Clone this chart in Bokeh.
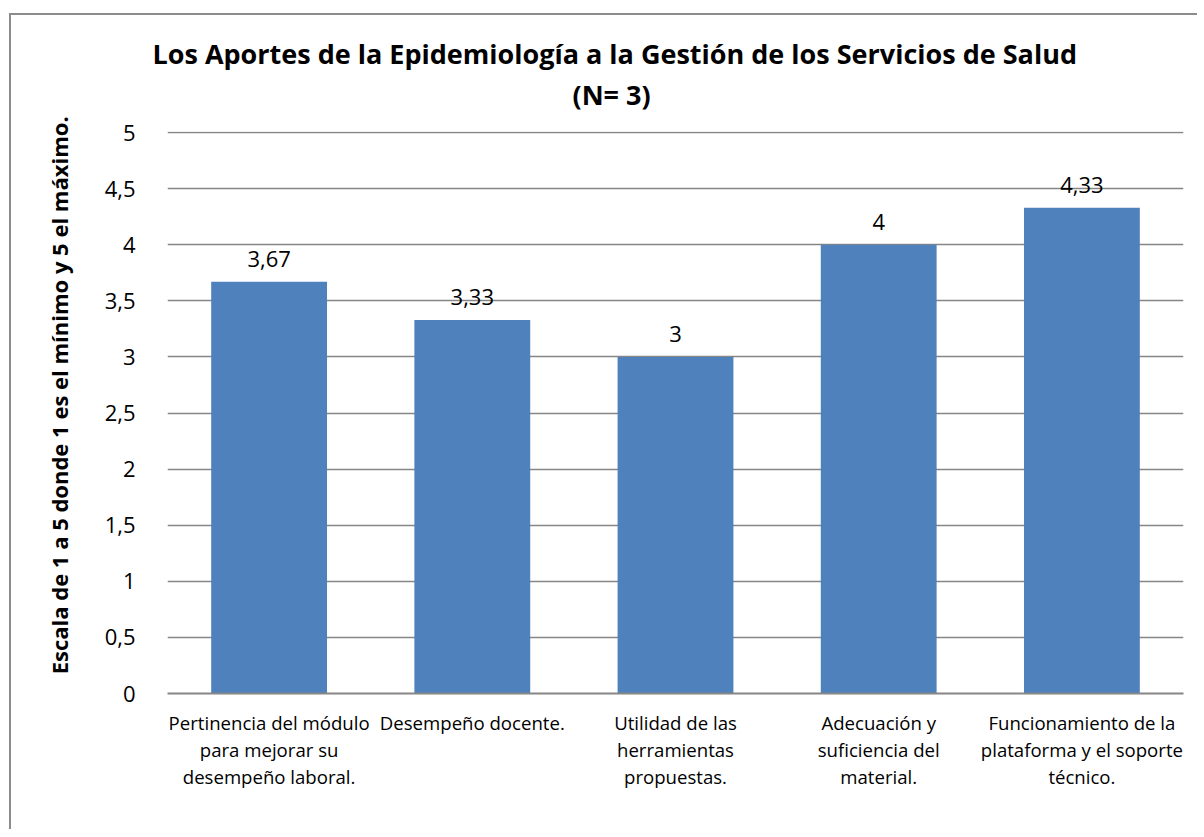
from bokeh.plotting import figure
from bokeh.models import ColumnDataSource, Range1d, FixedTicker, Title, LabelSet
from bokeh.core.properties import value
from bokeh.embed import file_html
from bokeh.resources import INLINE

categories = [
    "Pertinencia del módulo\npara mejorar su\ndesempeño laboral.",
    "Desempeño docente.",
    "Utilidad de las\nherramientas\npropuestas.",
    "Adecuación y\nsuficiencia del\nmaterial.",
    "Funcionamiento de la\nplataforma y el soporte\ntécnico.",
]
values = [3.67, 3.33, 3, 4, 4.33]
y_ticks = [0, 0.5, 1, 1.5, 2, 2.5, 3, 3.5, 4, 4.5, 5]
title_line1 = "Los Aportes de la Epidemiología a la Gestión de los Servicios de Salud"
title_line2 = "(N= 3)"
y_label = "Escala  de 1 a 5 donde 1 es el mínimo y 5 el máximo."

def fmt(v):
    s = ("%g" % v)
    return s.replace(".", ",")

labels = [fmt(v) for v in values]
src = ColumnDataSource(dict(cat=categories, val=values, lab=labels))

FONT = "Open Sans"
GRID = "#868686"

p = figure(
    x_range=categories, y_range=Range1d(0, 5.01),
    width=1188, height=816,
    output_backend="svg", toolbar_location=None,
    min_border_left=156, min_border_right=16,
    min_border_top=116, min_border_bottom=138,
)
p.margin = (13, 0, 0, 9)
p.styles = {"border-left": "2px solid #8c8c8c", "border-top": "2px solid #8c8c8c"}
p.outline_line_color = None

p.vbar(x="cat", top="val", width=0.57, source=src, fill_color="#4F81BD", line_color=None)

p.add_layout(LabelSet(x="cat", y="val", text="lab", source=src, text_align="center",
                      text_baseline="bottom", y_offset=15, text_font=value(FONT),
                      text_font_size="22px", text_color="#000000"))

# Titles
p.title.text = title_line1
p.title.align = "left"
p.title.offset = -15
p.title.text_font = FONT
p.title.text_font_size = "27px"
p.title.text_font_style = "bold"
p.title.text_color = "#000000"
t2 = Title(text=title_line2, align="left", offset=405, text_font=FONT, text_font_size="27px",
           text_font_style="bold", text_color="#000000")
t2.standoff = 37
try:
    p.title.standoff = -33
except Exception:
    p.title.standoff = 0
p.add_layout(t2, "above")

# Y axis
p.yaxis.ticker = FixedTicker(ticks=y_ticks)
p.yaxis.major_label_overrides = {t: fmt(t) for t in y_ticks}
p.yaxis.axis_line_color = None
p.yaxis.major_tick_line_color = None
p.yaxis.minor_tick_line_color = None
p.yaxis.major_label_standoff = 26
p.yaxis.major_label_text_font = FONT
p.yaxis.major_label_text_font_size = "22px"
p.yaxis.major_label_text_color = "#000000"
p.yaxis.axis_label = "\u00a0" * 7 + y_label
p.yaxis.axis_label_text_font = FONT
p.yaxis.axis_label_text_font_size = "22px"
p.yaxis.axis_label_text_font_style = "bold"
p.yaxis.axis_label_text_color = "#000000"
p.yaxis.axis_label_standoff = 28

p.ygrid.grid_line_color = GRID
p.ygrid.grid_line_width = 1.5
p.xgrid.grid_line_color = None

# X axis
p.xaxis.axis_line_color = GRID
p.xaxis.axis_line_width = 2
p.xaxis.major_tick_line_color = None
p.xaxis.minor_tick_line_color = None
p.xaxis.major_label_standoff = 10
p.xaxis.major_label_text_font = FONT
p.xaxis.major_label_text_font_size = "18.6px"
p.xaxis.major_label_text_color = "#000000"
p.xaxis.major_label_text_line_height = 1.08

open("out.html", "w").write(file_html(p, INLINE))
